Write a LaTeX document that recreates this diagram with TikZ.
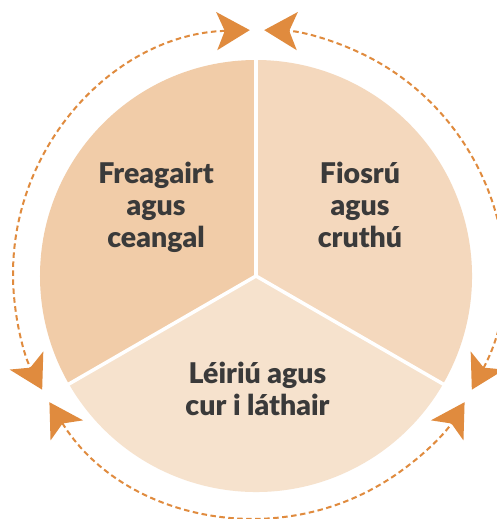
\documentclass[tikz,border=0pt]{standalone}
\usepackage{fontspec}
\setmainfont{Lato}
\newfontfamily\heavyfont{Lato Black}
\usetikzlibrary{arrows.meta}
\definecolor{sliceA}{HTML}{F1CCA8}
\definecolor{sliceB}{HTML}{F4D8BD}
\definecolor{sliceC}{HTML}{F6E2CD}
\definecolor{arrowc}{HTML}{E08B3E}
\definecolor{txt}{HTML}{3A3A3A}
\tikzset{
  lbl/.style={text=txt, font=\fontsize{28.5}{32}\selectfont\heavyfont, align=center, inner sep=0pt},
  cyc/.style={draw=arrowc, line width=2pt, dash pattern=on 5.5pt off 3.5pt,
    {Stealth[length=33pt,width=38pt,inset=8pt,fill=arrowc]}-{Stealth[length=33pt,width=38pt,inset=8pt,fill=arrowc]}},
  sep/.style={draw=white, line width=3.5pt}
}
\begin{document}
\begin{tikzpicture}[x=1pt,y=1pt]
\useasboundingbox (-256,-243) rectangle (240,276);
\fill[white] (-256,-243) rectangle (240,276);
\coordinate (c) at (0,0);
\coordinate (d) at (1,2);
\fill[sliceA] (c) -- (90:216) arc[start angle=90,end angle=210,radius=216] -- cycle;
\fill[sliceB] (c) -- (-30:216) arc[start angle=-30,end angle=90,radius=216] -- cycle;
\fill[sliceC] (c) -- (210:216) arc[start angle=210,end angle=330,radius=216] -- cycle;
\foreach \a in {90,210,330} \draw[sep] (c) -- (\a:218);
\draw[cyc] ([shift={(d)}]91.7:244) arc[start angle=91.7,end angle=208.3,radius=244];
\draw[cyc] ([shift={(d)}]211.7:244) arc[start angle=211.7,end angle=328.3,radius=244];
\draw[cyc] ([shift={(d)}]331.7:244) arc[start angle=331.7,end angle=448.3,radius=244];
\node[lbl, anchor=base] (fr) at (-100,28) {Freagairt\\agus\\ceangal};
\node[lbl, anchor=base] (fi) at (104,28) {Fiosrú\\agus\\cruthú};
\node[lbl, anchor=base] (le) at (1.5,-139) {Léiriú agus\\cur i láthair};
\end{tikzpicture}
\end{document}
